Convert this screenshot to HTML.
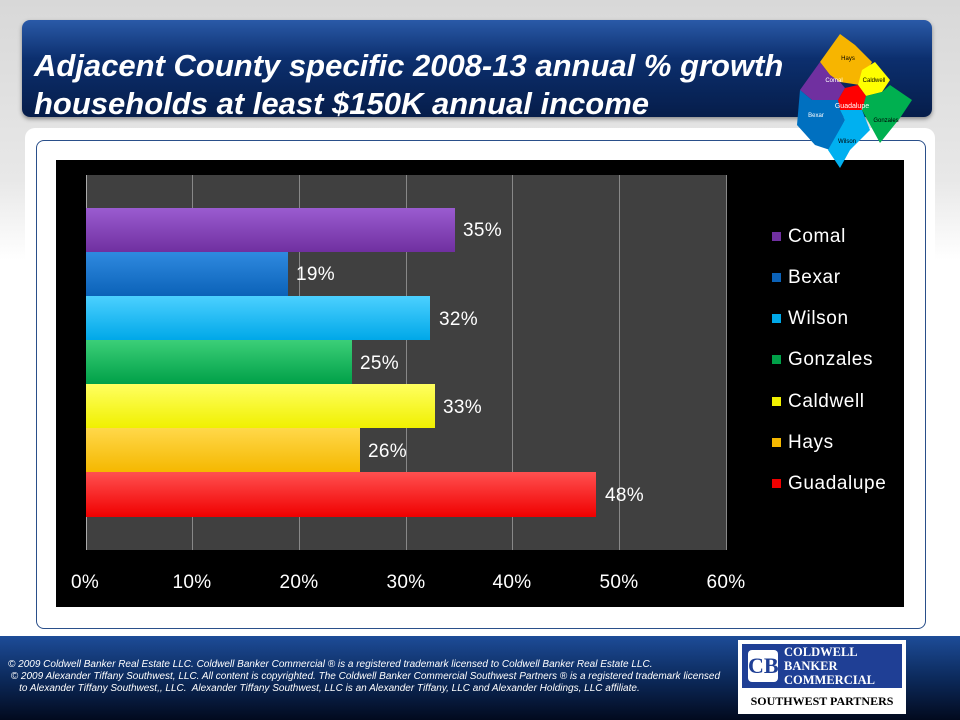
<!DOCTYPE html>
<html><head><style>
body{margin:0;width:960px;height:720px;overflow:hidden;position:relative;font-family:"Liberation Sans",sans-serif;background:linear-gradient(#d8d8d8 0,#e8e8e8 180px,#fff 260px,#fff 100%)}
.abs{position:absolute}
.title{left:22px;top:20px;width:910px;height:97px;border-radius:8px;background:linear-gradient(#2a5aa8,#0c2f6e 40%,#061d4a);box-shadow:0 2px 4px #888}
.title div{position:absolute;left:12px;top:27px;color:#fff;font-weight:bold;font-style:italic;font-size:31px;line-height:38px;white-space:nowrap}
.panel{left:25px;top:128px;width:910px;height:506px;background:#fff;border-radius:10px}
.inner{left:36px;top:140px;width:888px;height:487px;border:1px solid #2a4f8a;border-radius:8px}
.chart{left:56px;top:160px;width:848px;height:447px;background:#000}
.plot{left:86px;top:175px;width:640px;height:375px;background:#404040}
.g{top:175px;width:1px;height:375px;background:#888}
.bar{left:86px;height:44px}
.lbl{color:#fff;font-size:19px;letter-spacing:0.3px}
.tick{top:572px;color:#fff;font-size:19px;width:60px;text-align:center;letter-spacing:0.3px}
.leg{left:772px;color:#fff;font-size:19px;letter-spacing:0.6px}
.leg i{display:inline-block;width:9px;height:9px;margin-right:7px;vertical-align:1px}
.foot{left:0;top:636px;width:960px;height:84px;background:linear-gradient(#1d4c98,#0c2a5c 50%,#020a1e)}
.ft{left:8px;top:659px;color:#fff;font-size:10px;font-style:italic;line-height:12px;white-space:nowrap}
</style></head><body>
<div class="abs title"><div>Adjacent County specific 2008-13 annual % growth<br>households at least $150K annual income</div></div>
<div class="abs panel"></div>
<div class="abs inner"></div>
<div class="abs chart"></div>
<div class="abs plot"></div>
<div class="abs g" style="left:192px"></div><div class="abs g" style="left:299px"></div><div class="abs g" style="left:406px"></div><div class="abs g" style="left:512px"></div><div class="abs g" style="left:619px"></div><div class="abs g" style="left:726px"></div>
<div class="abs" style="left:86px;top:175px;width:1px;height:375px;background:#aaa"></div>
<div class="abs bar" style="top:208px;width:369px;background:linear-gradient(#9a5cd0,#7030a0)"></div>
<div class="abs bar" style="top:252px;width:202px;background:linear-gradient(#2f8ae0,#0b62b8)"></div>
<div class="abs bar" style="top:296px;width:344px;background:linear-gradient(#4cd0ff,#00a8e8)"></div>
<div class="abs bar" style="top:340px;width:266px;background:linear-gradient(#3ccf78,#00a048)"></div>
<div class="abs bar" style="top:384px;width:349px;background:linear-gradient(#ffff60,#f0f000)"></div>
<div class="abs bar" style="top:428px;width:274px;background:linear-gradient(#ffd84a,#f5b800)"></div>
<div class="abs bar" style="top:472px;width:510px;height:45px;background:linear-gradient(#ff5050,#f00000)"></div>
<div class="abs lbl" style="left:463px;top:220px">35%</div>
<div class="abs lbl" style="left:296px;top:264px">19%</div>
<div class="abs lbl" style="left:439px;top:309px">32%</div>
<div class="abs lbl" style="left:360px;top:353px">25%</div>
<div class="abs lbl" style="left:443px;top:397px">33%</div>
<div class="abs lbl" style="left:368px;top:441px">26%</div>
<div class="abs lbl" style="left:605px;top:485px">48%</div>
<div class="abs tick" style="left:55px">0%</div><div class="abs tick" style="left:162px">10%</div><div class="abs tick" style="left:269px">20%</div><div class="abs tick" style="left:376px">30%</div><div class="abs tick" style="left:482px">40%</div><div class="abs tick" style="left:589px">50%</div><div class="abs tick" style="left:696px">60%</div>
<div class="abs leg" style="top:226px"><i style="background:#7030a0"></i>Comal</div>
<div class="abs leg" style="top:267px"><i style="background:#0b62b8"></i>Bexar</div>
<div class="abs leg" style="top:308px"><i style="background:#00a8e8"></i>Wilson</div>
<div class="abs leg" style="top:349px"><i style="background:#00a048"></i>Gonzales</div>
<div class="abs leg" style="top:391px"><i style="background:#f0f000"></i>Caldwell</div>
<div class="abs leg" style="top:432px"><i style="background:#f5b800"></i>Hays</div>
<div class="abs leg" style="top:473px"><i style="background:#f00000"></i>Guadalupe</div>
<div class="abs foot"></div>
<div class="abs ft">© 2009 Coldwell Banker Real Estate LLC. Coldwell Banker Commercial ® is a registered trademark licensed to Coldwell Banker Real Estate LLC.<br>&nbsp;© 2009 Alexander Tiffany Southwest, LLC. All content is copyrighted. The Coldwell Banker Commercial Southwest Partners ® is a registered trademark licensed<br>&nbsp;&nbsp;&nbsp;&nbsp;to Alexander Tiffany Southwest,, LLC.&nbsp; Alexander Tiffany Southwest, LLC is an Alexander Tiffany, LLC and Alexander Holdings, LLC affiliate.</div>
<div class="abs" style="left:738px;top:640px;width:168px;height:74px;background:#fff"></div>
<div class="abs" style="left:742px;top:644px;width:160px;height:44px;background:#1f3f95"></div>
<div class="abs" style="left:748px;top:650px;width:30px;height:32px;background:#fff;border-radius:4px;color:#1f3f95;font:bold 22px 'Liberation Serif',serif;text-align:center;line-height:32px">CB</div>
<div class="abs" style="left:784px;top:645px;color:#fff;font:bold 12.5px 'Liberation Serif',serif;line-height:14px">COLDWELL<br>BANKER<br>COMMERCIAL</div>
<div class="abs" style="left:742px;top:694px;width:160px;text-align:center;font:bold 12px 'Liberation Serif',serif;color:#000">SOUTHWEST PARTNERS</div>
<svg class="abs" style="left:795px;top:30px" width="120" height="140" viewBox="795 30 120 140">
<polygon points="840,34 855,45 872,62 860,85 840,82 830,75 820,62" fill="#f7b500"/>
<polygon points="820,62 830,75 840,82 845,88 838,100 812,100 800,90" fill="#7030a0"/>
<polygon points="862,70 875,62 890,80 882,92 866,96 858,85" fill="#ffff00"/>
<polygon points="845,88 858,85 866,96 865,100 862,110 840,110 838,100" fill="#ff0000"/>
<polygon points="800,90 812,100 838,100 840,110 845,120 830,150 815,145 797,125" fill="#0070c0"/>
<polygon points="866,96 882,92 890,85 912,100 900,118 880,143 862,110" fill="#00b050"/>
<polygon points="845,120 840,110 862,110 870,130 850,150 840,168 828,150" fill="#00b0f0"/>
<text x="848" y="60" font-size="6" text-anchor="middle" font-family="Liberation Sans">Hays</text>
<text x="834" y="82" font-size="6" fill="#fff" text-anchor="middle" font-family="Liberation Sans">Comal</text>
<text x="874" y="82" font-size="6" text-anchor="middle" font-family="Liberation Sans">Caldwell</text>
<text x="852" y="108" font-size="7" fill="#fff" text-anchor="middle" font-family="Liberation Sans">Guadalupe</text>
<text x="816" y="117" font-size="6" fill="#fff" text-anchor="middle" font-family="Liberation Sans">Bexar</text>
<text x="886" y="122" font-size="6" text-anchor="middle" font-family="Liberation Sans">Gonzales</text>
<text x="847" y="143" font-size="6" text-anchor="middle" font-family="Liberation Sans">Wilson</text>
</svg>
</body></html>
